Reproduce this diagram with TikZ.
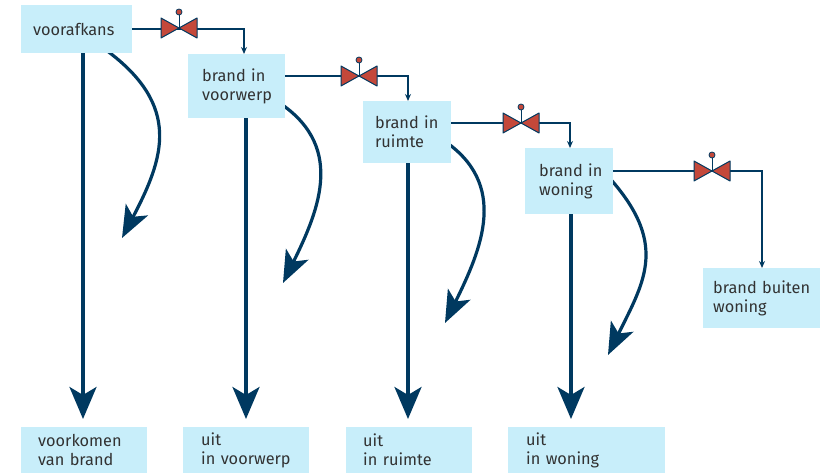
\documentclass[tikz,border=0pt]{standalone}
\usepackage{fontspec}
\setmainfont{Fira Sans}
\usetikzlibrary{arrows.meta,calc}
\definecolor{navy}{RGB}{0,57,96}
\definecolor{boxfill}{RGB}{200,238,250}
\definecolor{valvered}{RGB}{196,72,58}
\definecolor{txt}{RGB}{50,50,50}
\tikzset{
  box/.style={fill=boxfill, text=txt, inner ysep=0pt, align=left, anchor=north west,
    font=\fontsize{16.3}{19}\selectfont},
  flow/.style={draw=navy, line width=1.4pt, -{Stealth[length=7pt,width=6pt]}},
  bigarrow/.style={draw=navy, line width=3.6pt, -{Stealth[length=32pt,width=27pt,inset=8pt]}, shorten >=8pt},
  fallarrow/.style={draw=navy, line width=3.2pt, -{Stealth[length=32pt,width=25pt,inset=8pt]}},
  valve/.pic={
    \draw[navy, line width=1pt, fill=valvered, line join=round] (-18,-10) -- (-18,10) -- (0,0) -- cycle;
    \draw[navy, line width=1pt, fill=valvered, line join=round] (18,-10) -- (18,10) -- (0,0) -- cycle;
    \draw[navy, line width=1pt] (0,0) -- (0,-13);
    \draw[navy, line width=0.8pt, fill=valvered] (0,-16) circle (3pt);
  }
}
\begin{document}
\begin{tikzpicture}[x=1pt,y=-1pt]
\useasboundingbox (0,0) rectangle (820,473);
% falling arrows (behind boxes)
\draw[fallarrow] (106,50) .. controls (182,106) and (164,158) .. (122,238);
\draw[fallarrow] (275,100) .. controls (346,144) and (320,208) .. (283,283);
\draw[fallarrow] (443,140) .. controls (509,184) and (482,248) .. (445,323);
\draw[fallarrow] (604,172) .. controls (670,242) and (645,280) .. (608,355);
% boxes
\node[box, minimum width=111pt, minimum height=48pt, inner xsep=12pt, text width=87pt] (vo) at (21,5) {voorafkans};
\node[box, minimum width=97pt, minimum height=64pt, inner xsep=14pt, text width=69pt] (bv) at (188,54) {brand~in\\voorwerp};
\node[box, minimum width=88pt, minimum height=62pt, inner xsep=12pt, text width=64pt] (br) at (363,101) {brand~in\\ruimte};
\node[box, minimum width=88pt, minimum height=66pt, inner xsep=14pt, text width=60pt] (bw) at (525,148) {brand~in\\woning};
\node[box, minimum width=117pt, minimum height=60pt, inner xsep=10pt, text width=97pt] (bb) at (703,268) {brand~buiten\\woning};
\node[box, minimum width=126pt, minimum height=46pt, inner xsep=17pt, text width=92pt] (d1) at (21,427) {voorkomen\\van~brand};
\node[box, minimum width=126pt, minimum height=46pt, inner xsep=18pt, text width=90pt] (d2) at (183,427) {uit\\in~voorwerp};
\node[box, minimum width=126pt, minimum height=46pt, inner xsep=17pt, text width=92pt] (d3) at (346,427) {uit\\in~ruimte};
\node[box, minimum width=157pt, minimum height=46pt, inner xsep=18pt, text width=121pt] (d4) at (508,427) {uit\\in~woning};
% escalation connectors
\draw[flow] (vo.east) -| ($(bv.north west)+(56,0)$);
\draw[flow] ($(bv.north east)+(0,22)$) -| ($(br.north west)+(45,0)$);
\draw[flow] ($(br.north east)+(0,22)$) -| ($(bw.north west)+(45,0)$);
\draw[flow] ($(bw.north east)+(0,23)$) -| ($(bb.north west)+(59,0)$);
% valves
\coordinate (v1) at (179,28);
\coordinate (v2) at (359,76);
\coordinate (v3) at (521,123);
\coordinate (v4) at (712,171);
\pic at (v1) {valve};
\pic at (v2) {valve};
\pic at (v3) {valve};
\pic at (v4) {valve};
% vertical arrows
\coordinate (a1) at ($(vo.south west)+(62,0)$);
\coordinate (a2) at ($(bv.south west)+(58,0)$);
\coordinate (a3) at ($(br.south west)+(45,0)$);
\coordinate (a4) at ($(bw.south west)+(46,0)$);
\draw[bigarrow] (a1) -- (a1 |- d1.north);
\draw[bigarrow] (a2) -- (a2 |- d2.north);
\draw[bigarrow] (a3) -- (a3 |- d3.north);
\draw[bigarrow] (a4) -- (a4 |- d4.north);
\end{tikzpicture}
\end{document}
